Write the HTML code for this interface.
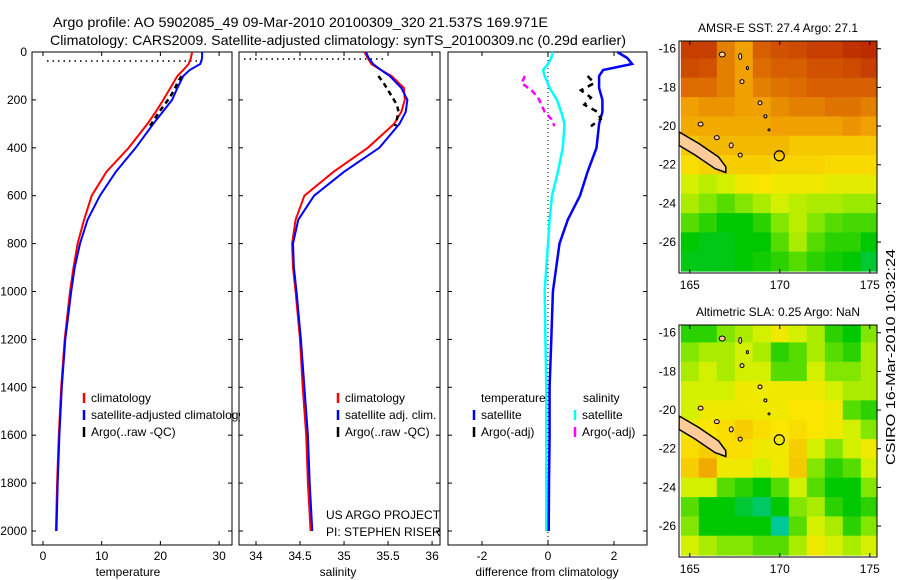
<!DOCTYPE html>
<html><head><meta charset="utf-8"><style>
html,body{margin:0;padding:0;background:#fff;}
svg{display:block;font-family:"Liberation Sans",sans-serif;}
</style></head><body>
<svg id="fig" width="900" height="580" viewBox="0 0 900 580">
<text x="53" y="27" font-size="14" textLength="495" lengthAdjust="spacingAndGlyphs">Argo profile: AO 5902085_49 09-Mar-2010 20100309_320 21.537S 169.971E</text>
<text x="50" y="45" font-size="14" textLength="576" lengthAdjust="spacingAndGlyphs">Climatology: CARS2009. Satellite-adjusted climatology: synTS_20100309.nc (0.29d earlier)</text>
<text x="895" y="465" font-size="12.5" transform="rotate(-90 895 465)" textLength="216" lengthAdjust="spacingAndGlyphs">CSIRO 16-Mar-2010 10:32:24</text>
</svg>
<script>
// ---------- profile data ----------
const depths = [0,25,50,75,100,150,200,250,300,400,500,600,700,800,900,1000,1200,1400,1600,1800,2000];
const tempClim = [25.4,25.2,24.8,23.9,22.9,21.7,20.5,19.2,17.8,14.6,10.8,8.3,7.0,5.9,5.2,4.6,3.7,3.1,2.7,2.4,2.2];
const tempSat = [27.1,27.1,26.8,25.0,23.9,22.9,22.0,20.4,18.8,15.8,12.4,9.7,7.6,6.3,5.4,4.8,3.8,3.2,2.8,2.5,2.3];
const salClim = [35.23,35.27,35.31,35.42,35.54,35.68,35.69,35.65,35.57,35.27,34.88,34.55,34.45,34.41,34.42,34.45,34.50,34.53,34.57,34.59,34.62];
const salSat = [35.25,35.28,35.33,35.42,35.52,35.65,35.72,35.70,35.63,35.40,35.00,34.66,34.48,34.42,34.43,34.46,34.51,34.55,34.59,34.61,34.64];
const diffTemp = [2.1,2.4,2.55,1.67,1.55,1.55,1.65,1.65,1.55,1.47,1.2,0.97,0.6,0.35,0.25,0.15,0.1,0.05,0.05,0.03,0.02];
const diffSal = [0.15,0.1,0.0,-0.15,-0.1,0.05,0.27,0.4,0.5,0.45,0.3,0.12,0.05,0.0,-0.05,-0.1,-0.08,-0.05,-0.05,-0.05,-0.05];
const argoDepths = [100,130,160,190,220,250,280,310];
const argoTemp = [23.6,22.9,22.3,21.6,20.7,19.8,19.0,18.2];
const argoSal = [35.39,35.45,35.5,35.55,35.6,35.62,35.6,35.58];
const argoDiffT = [1.2,1.4,1.0,1.3,1.1,1.5,1.6,1.3];
const argoDiffS = [-0.7,-0.8,-0.5,-0.3,-0.2,-0.1,0.1,0.2];
const depthTicks = [0,200,400,600,800,1000,1200,1400,1600,1800,2000];
const tempTicks = [0,10,20,30];
const salTicks = [34,34.5,35,35.5,36];
const salTickLabels = ["34","34.5","35","35.5","36"];
const diffTicks = [-2,0,2];
const diffTickLabels = ["-2","0","2"];

// ---------- map data ----------
const mapLons = [165,166,167,168,169,170,171,172,173,174,175];
const mapLats = [-16,-17,-18,-19,-20,-21,-22,-23,-24,-25,-26,-27];
const sstGrid = [
[.95,.95,.85,.8,.9,.92,.93,.95,.95,.97,.98],
[.93,.92,.85,.8,.88,.9,.9,.92,.92,.93,.95],
[.88,.88,.85,.8,.85,.87,.88,.9,.9,.9,.9],
[.8,.82,.82,.8,.8,.83,.85,.85,.87,.87,.85],
[.78,.78,.78,.78,.78,.8,.8,.8,.8,.82,.8],
[.72,.75,.75,.75,.75,.75,.72,.72,.72,.72,.72],
[.65,.68,.7,.7,.7,.68,.68,.68,.66,.66,.66],
[.55,.52,.55,.6,.62,.6,.6,.6,.58,.58,.58],
[.5,.45,.4,.45,.5,.55,.52,.5,.5,.48,.48],
[.4,.35,.3,.3,.35,.45,.52,.45,.4,.38,.38],
[.3,.28,.28,.3,.3,.4,.5,.4,.35,.35,.3],
[.28,.28,.28,.3,.32,.35,.4,.35,.32,.3,.25]];
const slaGrid = [
[.35,.35,.45,.5,.55,.6,.55,.5,.35,.3,.45],
[.45,.5,.5,.55,.5,.35,.4,.5,.4,.35,.5],
[.5,.55,.5,.55,.55,.4,.4,.55,.45,.45,.5],
[.55,.55,.55,.6,.6,.6,.6,.6,.55,.5,.5],
[.55,.6,.6,.6,.6,.6,.62,.62,.6,.4,.35],
[.6,.62,.65,.7,.65,.62,.65,.62,.6,.55,.45],
[.65,.7,.65,.65,.6,.6,.7,.55,.45,.55,.6],
[.7,.78,.6,.6,.55,.6,.72,.45,.35,.4,.55],
[.55,.55,.4,.35,.3,.4,.55,.4,.3,.3,.45],
[.4,.3,.3,.25,.2,.3,.45,.5,.35,.3,.35],
[.45,.3,.3,.3,.3,.15,.4,.55,.5,.35,.45],
[.55,.5,.45,.45,.4,.4,.5,.6,.55,.5,.55]];
const lonTicks = [165,170,175];
const latTicks = [-16,-18,-20,-22,-24,-26];
const latTickLabels = ["-16","-18","-20","-22","-24","-26"];

const NS = "http://www.w3.org/2000/svg";
const svg = document.getElementById("fig");
function el(tag, attrs, parent){ const e=document.createElementNS(NS,tag); for(const k in attrs) e.setAttribute(k,attrs[k]); (parent||svg).appendChild(e); return e; }
function txt(x,y,s,size,anchor,parent){ const t=el("text",{x:x,y:y,"font-size":size,"text-anchor":anchor||"start"},parent); t.textContent=s; return t; }

const yTop=52, yBot=545;
const yD = d => yTop + d*0.2395;
const panels = [
 {name:"temperature", x0:32, x1:232, v0:-1.87, v1:32.2, ticks:tempTicks, labels:tempTicks.map(String)},
 {name:"salinity", x0:239, x1:440, v0:33.807, v1:36.09, ticks:salTicks, labels:salTickLabels},
 {name:"difference", x0:448, x1:647, v0:-3.03, v1:3.0, ticks:diffTicks, labels:diffTickLabels}];
panels.forEach(p=>{ p.sx = v => p.x0 + (v-p.v0)/(p.v1-p.v0)*(p.x1-p.x0); });

function line(p, vals, ds, color, w, name, dash){
  const pts = vals.map((v,i)=>p.sx(v).toFixed(1)+","+yD(ds[i]).toFixed(1)).join(" ");
  const a={points:pts,fill:"none",stroke:color,"stroke-width":w};
  if(dash) a["stroke-dasharray"]=dash;
  const e=el("polyline",a);
  
  
}

panels.forEach((p,pi)=>{
  const fr=el("rect",{x:p.x0,y:yTop,width:p.x1-p.x0,height:yBot-yTop,fill:"none",stroke:"#000","stroke-width":1});
  
  
  p.ticks.forEach((t,i)=>{
    const x=p.sx(t);
    el("line",{x1:x,y1:yBot,x2:x,y2:yBot-4,stroke:"#000"});
    el("line",{x1:x,y1:yTop,x2:x,y2:yTop+4,stroke:"#000"});
    const l=txt(x,560,p.labels[i],12,"middle");
    
    
  });
  depthTicks.forEach(d=>{
    el("line",{x1:p.x0,y1:yD(d),x2:p.x0+4,y2:yD(d),stroke:"#000"});
    el("line",{x1:p.x1,y1:yD(d),x2:p.x1-4,y2:yD(d),stroke:"#000"});
  });
});
depthTicks.forEach(d=>{
  const l=txt(27,yD(d)+4,String(d),12,"end");
  
  
});
const xt=[["temperature",128],["salinity",338],["difference from climatology",547]];
xt.forEach(a=>{ const l=txt(a[1],576,a[0],12,"middle");   });

el("line",{x1:47,y1:61,x2:205,y2:61,stroke:"#000","stroke-width":1.5,"stroke-dasharray":"1.5,4"});
el("line",{x1:244,y1:59,x2:385,y2:59,stroke:"#000","stroke-width":1.5,"stroke-dasharray":"1.5,4"});
el("line",{x1:panels[2].sx(0),y1:yTop,x2:panels[2].sx(0),y2:yBot,stroke:"#000","stroke-width":1,"stroke-dasharray":"1,3"});

const P=panels;
line(P[0],tempClim,depths,"#f00",2,"temp-climatology-line");
line(P[0],tempSat,depths,"#00f",2,"temp-satellite-line");
line(P[0],argoTemp,argoDepths,"#000",2.5,"temp-argo-line","5,4");
line(P[1],salClim,depths,"#f00",2,"sal-climatology-line");
line(P[1],salSat,depths,"#00f",2,"sal-satellite-line");
line(P[1],argoSal,argoDepths,"#000",2.5,"sal-argo-line","5,4");
line(P[2],diffSal,depths,"#0ff",2.5,"diff-sal-satellite-line");
line(P[2],diffTemp,depths,"#00f",2.5,"diff-temp-satellite-line");
line(P[2],argoDiffT,argoDepths,"#000",2.5,"diff-temp-argo-line","6,5");
line(P[2],argoDiffS,argoDepths,"#f0f",2.5,"diff-sal-argo-line","6,4");

function leg(x,y,color,label,name){
  const g=el("g",{});
  
  
  el("line",{x1:x,y1:y-9,x2:x,y2:y+1,stroke:color,"stroke-width":2.5},g);
  txt(x+7,y,label,12,"start",g);
}
const clip=el("clipPath",{id:"c1"}); el("rect",{x:32,y:52,width:208,height:493},clip);
const lg1=el("g",{"clip-path":"url(#c1)"});
[["#f00","climatology",402],["#00f","satellite-adjusted climatology",419],["#000","Argo(..raw -QC)",436]].forEach(a=>{
  const g=el("g",{},lg1);  
  el("line",{x1:84,y1:a[2]-9,x2:84,y2:a[2]+1,stroke:a[0],"stroke-width":2.5},g);
  txt(91,a[2],a[1],12,"start",g);
});
leg(338,402,"#f00","climatology","sal-legend-climatology");
leg(338,419,"#00f","satellite adj. clim.","sal-legend-satellite");
leg(338,436,"#000","Argo(..raw -QC)","sal-legend-argo");
const t1=txt(481,402,"temperature",12);  
const t2=txt(583,402,"salinity",12);  
leg(474,419,"#00f","satellite","diff-legend-temp-satellite");
leg(474,436,"#000","Argo(-adj)","diff-legend-temp-argo");
leg(575,419,"#0ff","satellite","diff-legend-sal-satellite");
leg(575,436,"#f0f","Argo(-adj)","diff-legend-sal-argo");
const pi1=txt(326,519,"US ARGO PROJECT",12);  
const pi2=txt(326,536,"PI: STEPHEN RISER",12);  

const cstops=[[0.15,[0,200,150]],[0.3,[0,200,0]],[0.45,[130,230,0]],[0.55,[210,240,0]],[0.62,[250,230,0]],[0.72,[245,200,0]],[0.8,[240,160,0]],[0.9,[215,95,0]],[1,[180,30,0]]];
function cmap(v){
  if(v<=cstops[0][0]) return "rgb("+cstops[0][1]+")";
  for(let i=1;i<cstops.length;i++){ if(v<=cstops[i][0]){ const a=cstops[i-1],b=cstops[i],f=(v-a[0])/(b[0]-a[0]);
    return "rgb("+a[1].map((c,k)=>Math.round(c+(b[1][k]-c)*f)).join(",")+")"; } }
  return "rgb("+cstops[cstops.length-1][1]+")";
}
function drawMap(grid, y0, y1, title, name){
  const x0=679,x1=877, lon0=164.4, lon1=175.4, lat0=-15.6, lat1=-27.6;
  const sx=l=>x0+(l-lon0)/(lon1-lon0)*(x1-x0);
  const sy=l=>y0+(l-lat0)/(lat1-lat0)*(y1-y0);
  const id="mc"+name;
  const cp=el("clipPath",{id:id}); el("rect",{x:x0,y:y0,width:x1-x0,height:y1-y0},cp);
  const g=el("g",{"clip-path":"url(#"+id+")"});
  
  
  grid.forEach((row,r)=>row.forEach((v,c)=>{
    const xa=sx(mapLons[c]-0.5), xb=sx(mapLons[c]+0.5), ya=sy(mapLats[r]+0.5), yb=sy(mapLats[r]-0.5);
    const cell=el("rect",{x:xa.toFixed(1),y:ya.toFixed(1),width:(xb-xa+0.6).toFixed(1),height:(yb-ya+0.6).toFixed(1),fill:cmap(v)},g);
    
    
  }));
  const nc=[[164.4,-20.3],[165.5,-20.9],[166.6,-21.6],[167.0,-22.1],[167.0,-22.4],[166.4,-22.2],[165.3,-21.5],[164.4,-21.0]];
  const land=el("polygon",{points:nc.map(p=>sx(p[0]).toFixed(1)+","+sy(p[1]).toFixed(1)).join(" "),fill:"#fc9",stroke:"#000","stroke-width":1.5},g);
  
  
  [[166.8,-16.3,3,2.5],[167.8,-16.4,1.5,3],[168.2,-17.0,1,1.5],[167.9,-17.7,2,2],[168.9,-18.8,2,2],[169.2,-19.5,1.5,1.5],[169.4,-20.2,1,1],[165.6,-19.9,2.5,2],[166.5,-20.6,2.5,2],[167.3,-21.0,2,2.5],[167.8,-21.5,2,2]].forEach(a=>{
    const e=el("ellipse",{cx:sx(a[0]),cy:sy(a[1]),rx:a[2],ry:a[3],fill:"#fc9",stroke:"#000","stroke-width":1},g);
    
    
  });
  const c=el("circle",{cx:sx(169.971),cy:sy(-21.537),r:5,fill:"none",stroke:"#000","stroke-width":1.2},g);
  
  
  const fr=el("rect",{x:x0,y:y0,width:x1-x0,height:y1-y0,fill:"none",stroke:"#000"});
  
  
  lonTicks.forEach(l=>{ el("line",{x1:sx(l),y1:y1,x2:sx(l),y2:y1-4,stroke:"#000"}); el("line",{x1:sx(l),y1:y0,x2:sx(l),y2:y0+4,stroke:"#000"});
    const t=txt(sx(l),y1+16,String(l),12,"middle");   });
  latTicks.forEach((l,i)=>{ el("line",{x1:x1,y1:sy(l),x2:x1+4,y2:sy(l),stroke:"#000"});
    const t=txt(x0-3,sy(l)+4,latTickLabels[i],12,"end");   });
  const tt=txt((x0+x1)/2,y0-9,title,12,"middle");  
}
drawMap(sstGrid,41,273,"AMSR-E SST: 27.4 Argo: 27.1","sst-map");
drawMap(slaGrid,325,557,"Altimetric SLA: 0.25 Argo: NaN","sla-map");
</script>
</body></html>
